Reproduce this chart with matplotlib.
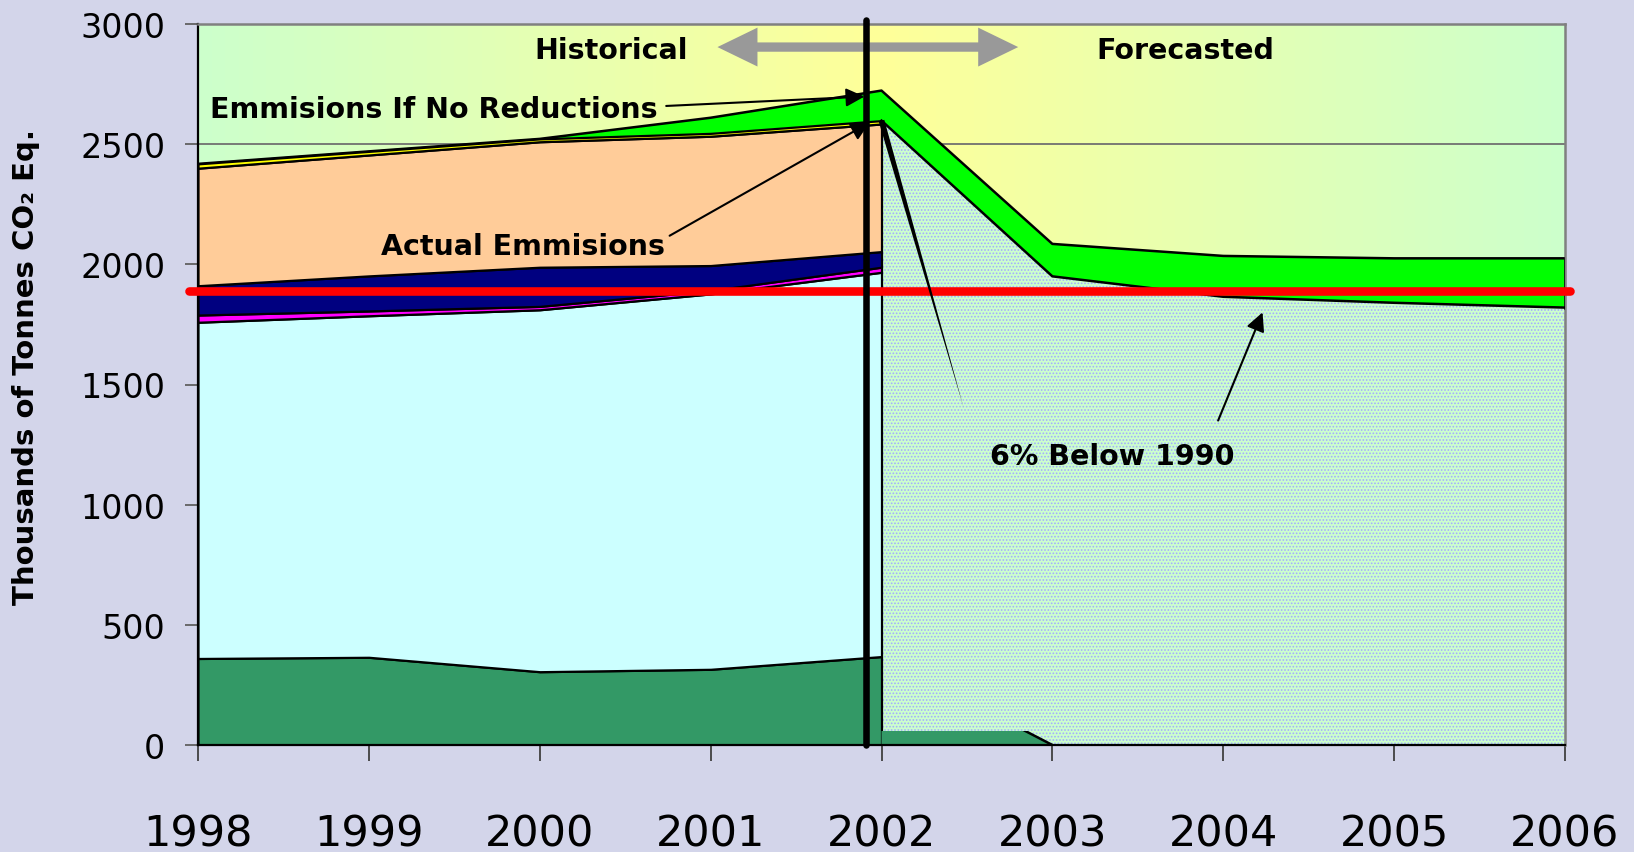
import numpy as np
import matplotlib
matplotlib.use("Agg")
import matplotlib.pyplot as plt
import matplotlib.patches as mpatches
from matplotlib.colors import to_rgb

# historical layers (bottom -> top), thousands of tonnes
hist_years = [1998, 1999, 2000, 2001, 2002]
layer_dkgreen = [360, 365, 305, 315, 368]
layer_cyan = [1399, 1421, 1506, 1562, 1599]
layer_magenta = [30, 20, 14, 14, 21]
layer_navy = [122, 146, 163, 104, 65]
layer_peach = [489, 503, 522, 538, 531]
layer_yellow = [18, 15, 12, 12, 14]

# whole period
all_years = [1998, 1999, 2000, 2001, 2002, 2003, 2004, 2005, 2006]
no_reductions = [2418, 2470, 2522, 2610, 2723, 2085, 2035, 2025, 2025]

# forecast
fc_years = [2002, 2003, 2004, 2005, 2006]
forecast = [2598, 1950, 1865, 1840, 1820]
dkgreen_fc_years = [2002, 2003]
dkgreen_fc = [368, 0]
hatch_floor = 60

target = 1890  # 6% below 1990
split_year = 2001.91

layer_colors = ["#339966", "#ccffff", "#ff00ff", "#000080", "#ffcc99", "#ffff00"]
bg = "#d3d5ea"

plt.rcParams["hatch.linewidth"] = 0.8

fig = plt.figure(figsize=(16.34, 8.53), dpi=100, facecolor=bg)
ax = fig.add_axes([198 / 1634, 1 - 746 / 853, 1367 / 1634, 721 / 853])
ax.set_xlim(1998, 2006)
ax.set_ylim(0, 3000)

# background gradient green -> yellow -> green
t = np.linspace(0, 1, 400)
c_side = np.array(to_rgb("#ccffcc"))
c_mid = np.array(to_rgb("#ffff99"))
w = 1 - np.abs(t - 0.5) * 2
grad = c_side[None, :] * (1 - w[:, None]) + c_mid[None, :] * w[:, None]
ax.imshow(grad[None, :, :], extent=[1998, 2006, 0, 3000], aspect="auto", zorder=0)

ax.set_axisbelow(True)
ax.yaxis.grid(True, color="#707070", lw=1.3)

hist_total = np.sum([layer_dkgreen, layer_cyan, layer_magenta, layer_navy,
                     layer_peach, layer_yellow], axis=0)
lower = list(hist_total) + forecast[1:]

# no-reduction band
ax.fill_between(all_years, lower, no_reductions, facecolor="#00ff00",
                edgecolor="none", zorder=2)
ax.plot(all_years, no_reductions, color="black", lw=1.8, zorder=2.1)

# forecast hatched area
ax.fill_between(fc_years, 0, forecast, facecolor="#ccffcc", hatch=".....",
                edgecolor="#a3acff", linewidth=0, zorder=2.5)
ax.plot(fc_years, forecast, color="black", lw=1.8, zorder=3)
ax.plot([fc_years[-1]] * 2, [forecast[-1], no_reductions[-1]], color="black",
        lw=1.8, zorder=3)

# dark green tail under the hatch
clip = mpatches.Rectangle((2001.5, 0), 2, hatch_floor, transform=ax.transData)
p = ax.fill_between(dkgreen_fc_years, 0, dkgreen_fc, facecolor=layer_colors[0],
                    edgecolor="none", zorder=3.2)
p.set_clip_path(clip)
ln, = ax.plot(dkgreen_fc_years, dkgreen_fc, color="black", lw=1.8, zorder=3.3)
ln.set_clip_path(clip)

# historical stack
ax.stackplot(hist_years, layer_dkgreen, layer_cyan, layer_magenta, layer_navy,
             layer_peach, layer_yellow, colors=layer_colors,
             edgecolor="black", linewidth=1.6, zorder=3)

# target line
ax.plot([1997.95, 2006.03], [target, target], color="#ff0000", lw=6.2,
        solid_capstyle="round", clip_on=False, zorder=5)

# historical / forecast split
ax.plot([split_year, split_year], [0, 3017], color="black", lw=4.7,
        solid_capstyle="round", clip_on=False, zorder=6)

# gray double arrow
for tip in (2001.04, 2002.80):
    ax.add_patch(mpatches.FancyArrowPatch(
        (split_year, 2904), (tip, 2904),
        arrowstyle="simple,head_length=28.8,head_width=28,tail_width=6.7",
        mutation_scale=1, color="#999999", lw=0, shrinkA=0, shrinkB=0,
        zorder=5.5))

tfont = dict(fontsize=20.5, fontweight="bold", color="black", zorder=7)
ax.text(2000.42, 2893, "Historical", ha="center", va="center", **tfont)
ax.text(2003.78, 2893, "Forecasted", ha="center", va="center", **tfont)
ax.text(1998.07, 2648, "Emmisions If No Reductions", ha="left", va="center", **tfont)
ax.text(1999.90, 2078, "Actual Emmisions", ha="center", va="center", **tfont)
ax.text(2003.35, 1204, "6% Below 1990", ha="center", va="center", **tfont)

arr = dict(arrowstyle="-|>", color="black", lw=1.5, mutation_scale=28,
           shrinkA=0, shrinkB=0)
ax.annotate("", xy=(2001.90, 2698), xytext=(2000.74, 2659), arrowprops=arr, zorder=7)
ax.annotate("", xy=(2001.93, 2590), xytext=(2000.76, 2119), arrowprops=arr, zorder=7)
ax.annotate("", xy=(2004.23, 1800), xytext=(2003.97, 1350), arrowprops=arr, zorder=7)
ax.annotate("", xy=(2002.48, 1405), xytext=(2002.0, 2598),
            arrowprops=dict(arrowstyle="wedge,tail_width=0.3", fc="black",
                            ec="none", mutation_scale=14, shrinkA=0, shrinkB=0),
            zorder=7)

# axes styling
ax.set_xticks(all_years)
ax.set_xticklabels([str(y) for y in all_years])
ax.set_yticks(np.arange(0, 3001, 500))
ax.tick_params(axis="x", length=11.5, width=1.3, color="#404040", pad=37,
               labelsize=31)
ax.tick_params(axis="y", length=9.4, width=1.3, color="#606060", pad=14,
               labelsize=24)
for side in ("left", "bottom"):
    ax.spines[side].set_color("black")
    ax.spines[side].set_linewidth(1.6)
for side in ("top", "right"):
    ax.spines[side].set_color("#808080")
    ax.spines[side].set_linewidth(1.8)
ax.spines["bottom"].set_zorder(6)

fig.text(26 / 1634, 1 - 367 / 853, "Thousands of Tonnes CO₂ Eq.", rotation=90,
         ha="center", va="center", fontsize=21, fontweight="bold")

fig.savefig("out.png", dpi=100, facecolor=bg)
